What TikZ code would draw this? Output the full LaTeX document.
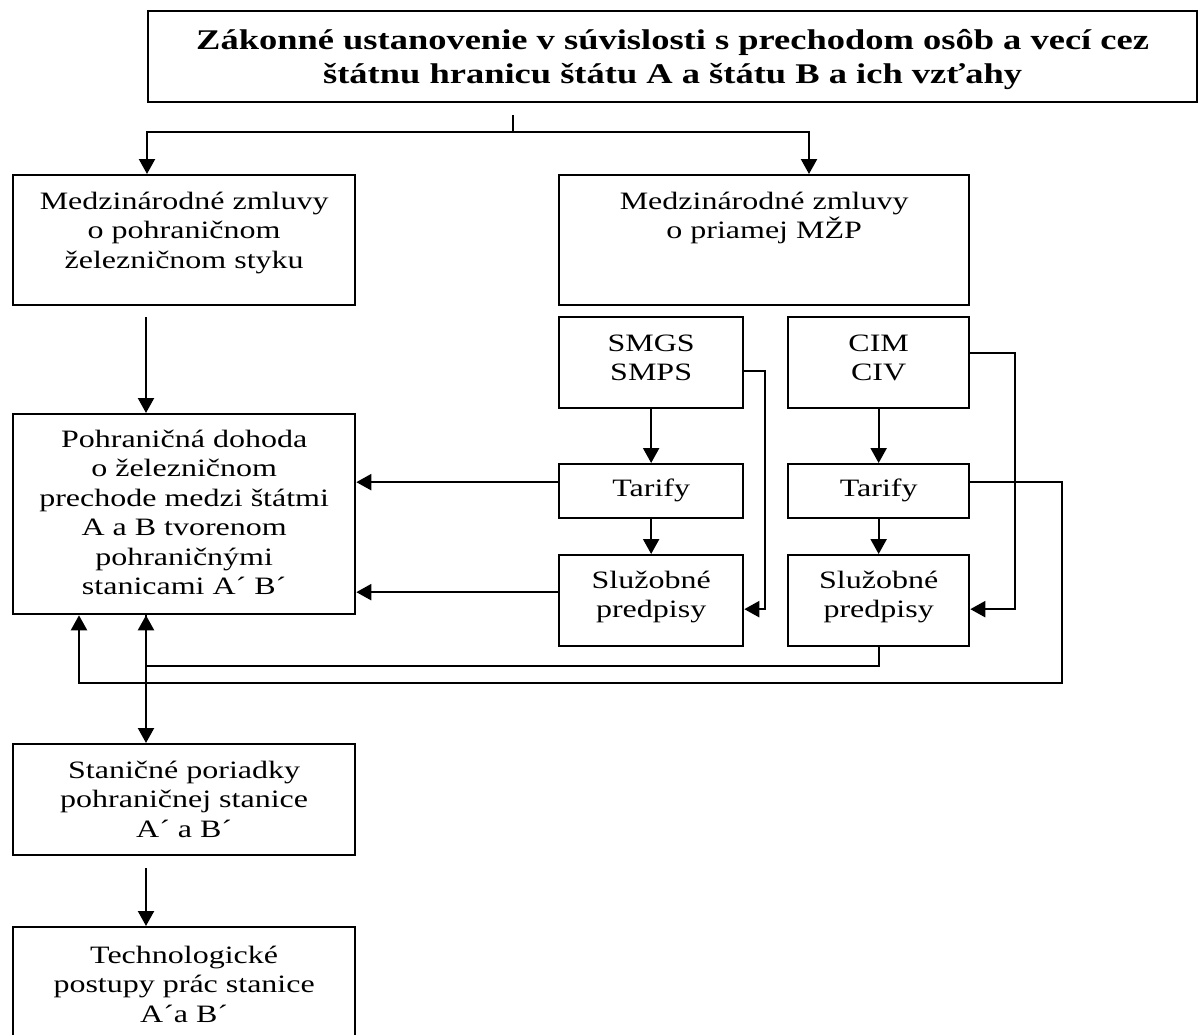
\documentclass[tikz,border=0pt]{standalone}
\usepackage{fontspec}
\setmainfont[FakeStretch=1.28]{Liberation Serif}
\usetikzlibrary{arrows.meta, positioning, calc}
\newcommand{\cellbox}[4]{\parbox[c][#2][t]{#1}{\centering\rule{0pt}{#3}#4}}

\begin{document}
\begin{tikzpicture}[x=1pt, y=-1pt, >={Triangle[length=15pt,width=16pt]},
  box/.style={draw, line width=2.3pt, inner sep=0pt, anchor=north west,
    font=\fontsize{25}{29.5}\selectfont},
  head/.style={box, font=\fontsize{28.5}{34}\selectfont\bfseries},
  link/.style={line width=2.2pt}]

  \useasboundingbox (0,0) rectangle (1200,1034);
  \clip (0,0) rectangle (1200,1034);

  % Top box
  \node[head] (title) at (147,10) {\cellbox{1049pt}{91pt}{38pt}{Zákonné ustanovenie v súvislosti s prechodom osôb a vecí cez\\ štátnu hranicu štátu A a štátu B a ich vzťahy}};

  % Left column
  \node[box] (medzL) at (12,174) {\cellbox{342pt}{130pt}{34pt}{Medzinárodné zmluvy\\ o pohraničnom\\ železničnom styku}};
  \node[box] (pohr) at (12,413) {\cellbox{342pt}{200pt}{33pt}{Pohraničná dohoda\\ o železničnom\\ prechode medzi štátmi\\ A a B tvorenom\\ pohraničnými\\ stanicami A´ B´}};
  \node[box] (stan) at (12,743) {\cellbox{342pt}{111pt}{34pt}{Staničné poriadky\\ pohraničnej stanice\\ A´ a B´}};
  \node[box] (tech) at (12,926) {\cellbox{342pt}{140pt}{36pt}{Technologické\\ postupy prác stanice\\ A´a B´}};

  % Right column
  \node[box] (medzR) at (558,174) {\cellbox{410pt}{130pt}{34pt}{Medzinárodné zmluvy\\ o priamej MŽP}};
  \node[box] (smgs) at (558,316) {\cellbox{184pt}{91pt}{34pt}{SMGS\\ SMPS}};
  \node[box] (cim) at (787,316) {\cellbox{181pt}{91pt}{34pt}{CIM\\ CIV}};
  \node[box] (tarL) at (558,463) {\cellbox{184pt}{54pt}{32pt}{Tarify}};
  \node[box] (tarR) at (787,463) {\cellbox{181pt}{54pt}{32pt}{Tarify}};
  \node[box] (sluL) at (558,554) {\cellbox{184pt}{91pt}{33pt}{Služobné\\ predpisy}};
  \node[box] (sluR) at (787,554) {\cellbox{181pt}{91pt}{33pt}{Služobné\\ predpisy}};

  % Split below the top box
  \coordinate (split) at (513,132);
  \draw[link, shorten <=12pt] (title.south -| split) -- (split);
  \draw[link, ->] (split) -| ($(medzL.north west)+(135,0)$);
  \draw[link, ->] (split) -| ($(medzR.north west)+(251,0)$);

  % Left chain
  \draw[link, ->, shorten <=11pt] ($(medzL.south west)+(134,0)$) -- ($(pohr.north west)+(134,0)$);
  \draw[link, ->] ($(pohr.south west)+(134,0)$) -- ($(stan.north west)+(134,0)$);
  \draw[link, ->, shorten <=12pt] ($(stan.south west)+(134,0)$) -- ($(tech.north west)+(134,0)$);

  % Right chains
  \draw[link, ->] (smgs) -- (tarL);
  \draw[link, ->] (tarL) -- (sluL);
  \draw[link, ->] (cim) -- (tarR);
  \draw[link, ->] (tarR) -- (sluR);
  \draw[link, ->] ([yshift=-8.5pt]smgs.east) -- ++(21,0) |- ([yshift=-8.5pt]sluL.east);
  \draw[link, ->] ([yshift=9.5pt]cim.east) -- ++(45,0) |- ([yshift=-8.5pt]sluR.east);

  % Back to the border agreement
  \draw[link, ->] ([yshift=9pt]tarL.west) -- ([yshift=9pt]tarL.west -| pohr.east);
  \draw[link, ->] ([yshift=8.5pt]sluL.west) -- ([yshift=8.5pt]sluL.west -| pohr.east);
  \draw[link, ->] (sluR.south) -- ++(0,19) -| ($(pohr.south west)+(134,0)$);
  \draw[link, ->] ([yshift=9pt]tarR.east) -- ++(92,0) -- ++(0,201) -| ($(pohr.south west)+(67,0)$);

\end{tikzpicture}
\end{document}
